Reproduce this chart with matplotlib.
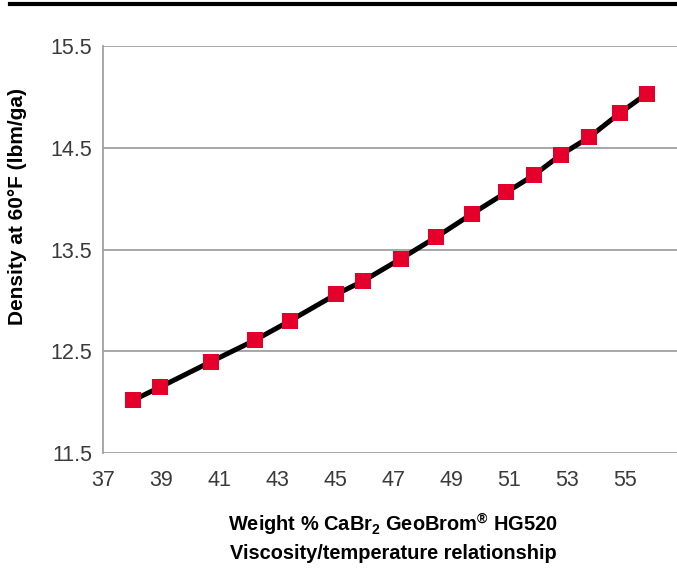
import numpy as np
import matplotlib.pyplot as plt
from matplotlib.lines import Line2D

# Weight % CaBr2 vs density
weight_pct = [38.02, 38.96, 40.72, 42.23, 43.44, 45.03, 45.96, 47.27,
              48.48, 49.72, 50.90, 51.86, 52.79, 53.76, 54.83, 55.76]
density = [12.02, 12.15, 12.40, 12.61, 12.80, 13.06, 13.19, 13.41,
           13.62, 13.85, 14.06, 14.23, 14.43, 14.60, 14.84, 15.03]

x_ticks = [37, 39, 41, 43, 45, 47, 49, 51, 53, 55]
y_ticks = [11.5, 12.5, 13.5, 14.5, 15.5]

# bold sans for the subscript / superscript bits of the x label
plt.rcParams['mathtext.fontset'] = 'custom'
plt.rcParams['mathtext.rm'] = 'Liberation Sans:bold'
plt.rcParams['mathtext.it'] = 'Liberation Sans:bold'
plt.rcParams['mathtext.bf'] = 'Liberation Sans:bold'

fig = plt.figure(figsize=(6.77, 5.69), dpi=100)
ax = fig.add_axes([0.1526, 0.2033, 0.856, 0.7163])

# Gridlines
for y in y_ticks:
	ax.axhline(y=y, color='#a0a0a0', linewidth=1.3, zorder=1)

ax.plot(weight_pct, density, color='black', linewidth=3.6, zorder=2)
ax.plot(weight_pct, density, linestyle='none', marker='s', markersize=11.5,
        color='#e4002b', markeredgewidth=0, zorder=3)

ax.set_xlim(37, 57)
ax.set_ylim(11.5, 15.5)
ax.set_xticks(x_ticks)
ax.set_yticks(y_ticks)
ax.set_yticklabels(["{:.1f}".format(y) for y in y_ticks])
ax.tick_params(length=0, labelsize=15.5, labelcolor='#3a3a3a')
ax.tick_params(axis='y', pad=8)
ax.tick_params(axis='x', pad=12)
for lab in ax.get_xticklabels() + ax.get_yticklabels():
	lab.set_fontfamily('Liberation Sans')

for side in ['top', 'right', 'bottom']:
	ax.spines[side].set_visible(False)
ax.spines['left'].set_color('#a0a0a0')
ax.spines['left'].set_linewidth(1.3)

ax.set_ylabel("Density at 60\u00b0F (lbm/ga)", fontsize=15, fontweight='bold',
              family='Liberation Sans')
ax.yaxis.set_label_coords(-0.131, 0.605)

fig.text(0.5805, 0.077, "Weight % CaBr$_2$ GeoBrom$^{\u00ae}$ HG520",
         ha='center', va='center', fontsize=14.4, fontweight='bold', family='Liberation Sans')
fig.text(0.5805, 0.028, "Viscosity/temperature relationship",
         ha='center', va='center', fontsize=14.4, fontweight='bold', family='Liberation Sans')

# heavy rule along the top
fig.add_artist(Line2D([0.015, 1.0], [0.993, 0.993], color='black', linewidth=3,
                      transform=fig.transFigure))

fig.savefig("out.png", dpi=100)
